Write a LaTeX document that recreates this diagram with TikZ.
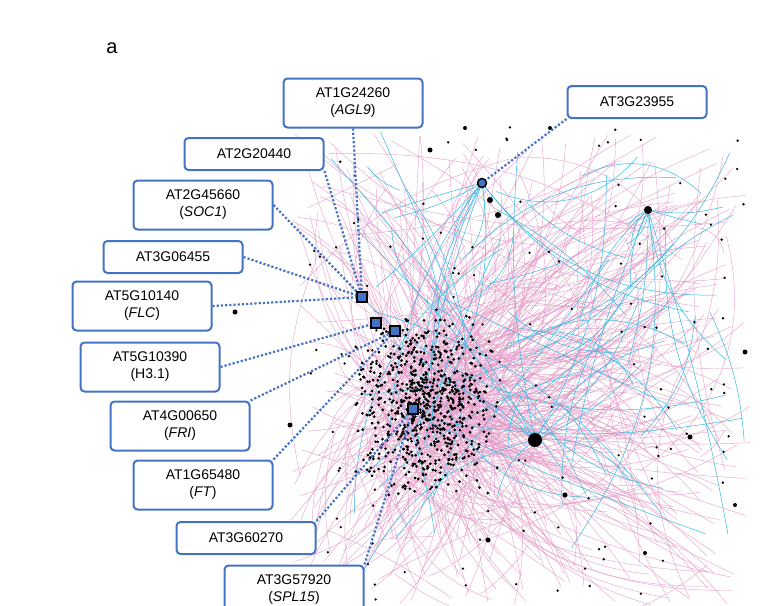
\documentclass[tikz,border=0pt]{standalone}
\usepackage{fontspec}
\setmainfont{Liberation Sans}
\begin{document}
\definecolor{bx}{HTML}{4472C4}
\definecolor{pk}{HTML}{E397C4}
\definecolor{cy}{HTML}{35B9E3}
\begin{tikzpicture}[x=1pt,y=-1pt,
 lab/.style={draw=bx,line width=2pt,rounded corners=4pt,fill=white,minimum width=139pt,align=center,font=\fontsize{14}{17}\selectfont,inner sep=2pt},
 one/.style={lab,minimum height=32pt},
 two/.style={lab,minimum height=49pt},
 dl/.style={draw=bx,line width=2.2pt,dotted},
 pe/.style={draw=pk,line width=0.45pt,opacity=0.85},
 ce/.style={draw=cy,line width=0.5pt},
 dot/.style={fill=black}]
\useasboundingbox (0,0) rectangle (770,605);
\node[font=\fontsize{20}{24}\selectfont] (a) at (112,48) {a};
\pgfmathsetseed{7}
\foreach \i in {1,...,400}{
 \pgfmathsetmacro\ax{430+rand*60}\pgfmathsetmacro\ay{410+rand*60}
 \pgfmathsetmacro\bx{290+rnd*460}\pgfmathsetmacro\by{130+rnd*475}
 \pgfmathsetmacro\bd{rand*40}
 \draw[pe] (\ax,\ay) to[bend left=\bd] (\bx,\by);
}
\foreach \i in {1,...,90}{
 \pgfmathsetmacro\ax{290+rnd*460}\pgfmathsetmacro\ay{130+rnd*475}
 \pgfmathsetmacro\bx{290+rnd*460}\pgfmathsetmacro\by{130+rnd*475}
 \pgfmathsetmacro\bd{rand*40}
 \draw[pe] (\ax,\ay) to[bend left=\bd] (\bx,\by);
}
\foreach \i in {1,...,40}{
 \pgfmathsetmacro\ax{330+rnd*420}\pgfmathsetmacro\ay{130+rnd*430}
 \pgfmathsetmacro\bx{330+rnd*420}\pgfmathsetmacro\by{130+rnd*430}
 \pgfmathsetmacro\bd{rand*40}
 \draw[ce] (\ax,\ay) to[bend left=\bd] (\bx,\by);
}
\foreach \i in {1,...,12}{
 \pgfmathsetmacro\bx{360+rnd*390}\pgfmathsetmacro\by{130+rnd*350}
 \pgfmathsetmacro\bd{rand*35}
 \draw[ce] (482,183) to[bend left=\bd] (\bx,\by);
 \pgfmathsetmacro\cx{560+rnd*190}\pgfmathsetmacro\cy{200+rnd*360}
 \draw[ce] (648,210) to[bend left=\bd] (\cx,\cy);
 \pgfmathsetmacro\dx{300+rnd*440}\pgfmathsetmacro\dy{140+rnd*460}
 \draw[ce] (535,440) to[bend left=\bd] (\dx,\dy);
}
\foreach \i in {1,...,750}{
 \pgfmathsetmacro\x{425+(rand+rand)*38}\pgfmathsetmacro\y{405+(rand+rand)*48}
 \fill[dot] (\x,\y) circle (1.5);
}
\foreach \i in {1,...,140}{
 \pgfmathsetmacro\x{300+rnd*450}\pgfmathsetmacro\y{125+rnd*475}
 \fill[dot] (\x,\y) circle (1.3);
}
\foreach \p/\r in {{(535,440)}/7,{(648,210)}/4,{(430,150)}/2.5,{(465,128)}/2,{(550,128)}/2,{(745,352)}/2.5,{(690,437)}/2.5,{(565,495)}/2.5,{(488,540)}/2.5,{(290,425)}/2.5,{(235,312)}/2.5,{(645,553)}/2,{(735,505)}/2,{(490,200)}/3,{(498,215)}/3}
 \fill[dot] \p circle (\r);
\node[draw=black,fill=bx,line width=1.5pt,minimum size=10pt,inner sep=0] (m1) at (362,297) {};
\node[draw=black,fill=bx,line width=1.5pt,minimum size=10pt,inner sep=0] (m2) at (376,323) {};
\node[draw=black,fill=bx,line width=1.5pt,minimum size=10pt,inner sep=0] (m3) at (395,331) {};
\node[draw=black,fill=bx,line width=1.5pt,minimum size=10pt,inner sep=0] (m4) at (413,409) {};
\node[circle,draw=black,fill=bx,line width=1.5pt,minimum size=9pt,inner sep=0] (c1) at (482,183) {};
\node[two] (b1) at (353,103) {AT1G24260\\(\textit{AGL9})};
\node[one] (b2) at (637,102) {AT3G23955};
\node[one] (b3) at (254,154) {AT2G20440};
\node[two] (b4) at (203,205) {AT2G45660\\(\textit{SOC1})};
\node[one] (b5) at (173,257) {AT3G06455};
\node[two] (b6) at (142,306) {AT5G10140\\(\textit{FLC})};
\node[two] (b7) at (150,367) {AT5G10390\\(H3.1)};
\node[two] (b8) at (180,426) {AT4G00650\\(\textit{FRI})};
\node[two] (b9) at (203,485) {AT1G65480\\(\textit{FT})};
\node[one] (b10) at (246,538) {AT3G60270};
\node[two] (b11) at (294,590) {AT3G57920\\(\textit{SPL15})};
\draw[dl] (b1.south) -- (m1);
\draw[dl] (b3.south east) -- (m1);
\draw[dl] (b4.east) -- (m1);
\draw[dl] (b5.east) -- (m1);
\draw[dl] (b6.east) -- (m1);
\draw[dl] (b7.east) -- (m2);
\draw[dl] (b8.north east) -- (m3);
\draw[dl] (b9.north east) -- (m3);
\draw[dl] (b10.north east) -- (m4);
\draw[dl] (b11.north east) -- (m4);
\draw[dl] (b2.south west) -- (c1);
\end{tikzpicture}
\end{document}
